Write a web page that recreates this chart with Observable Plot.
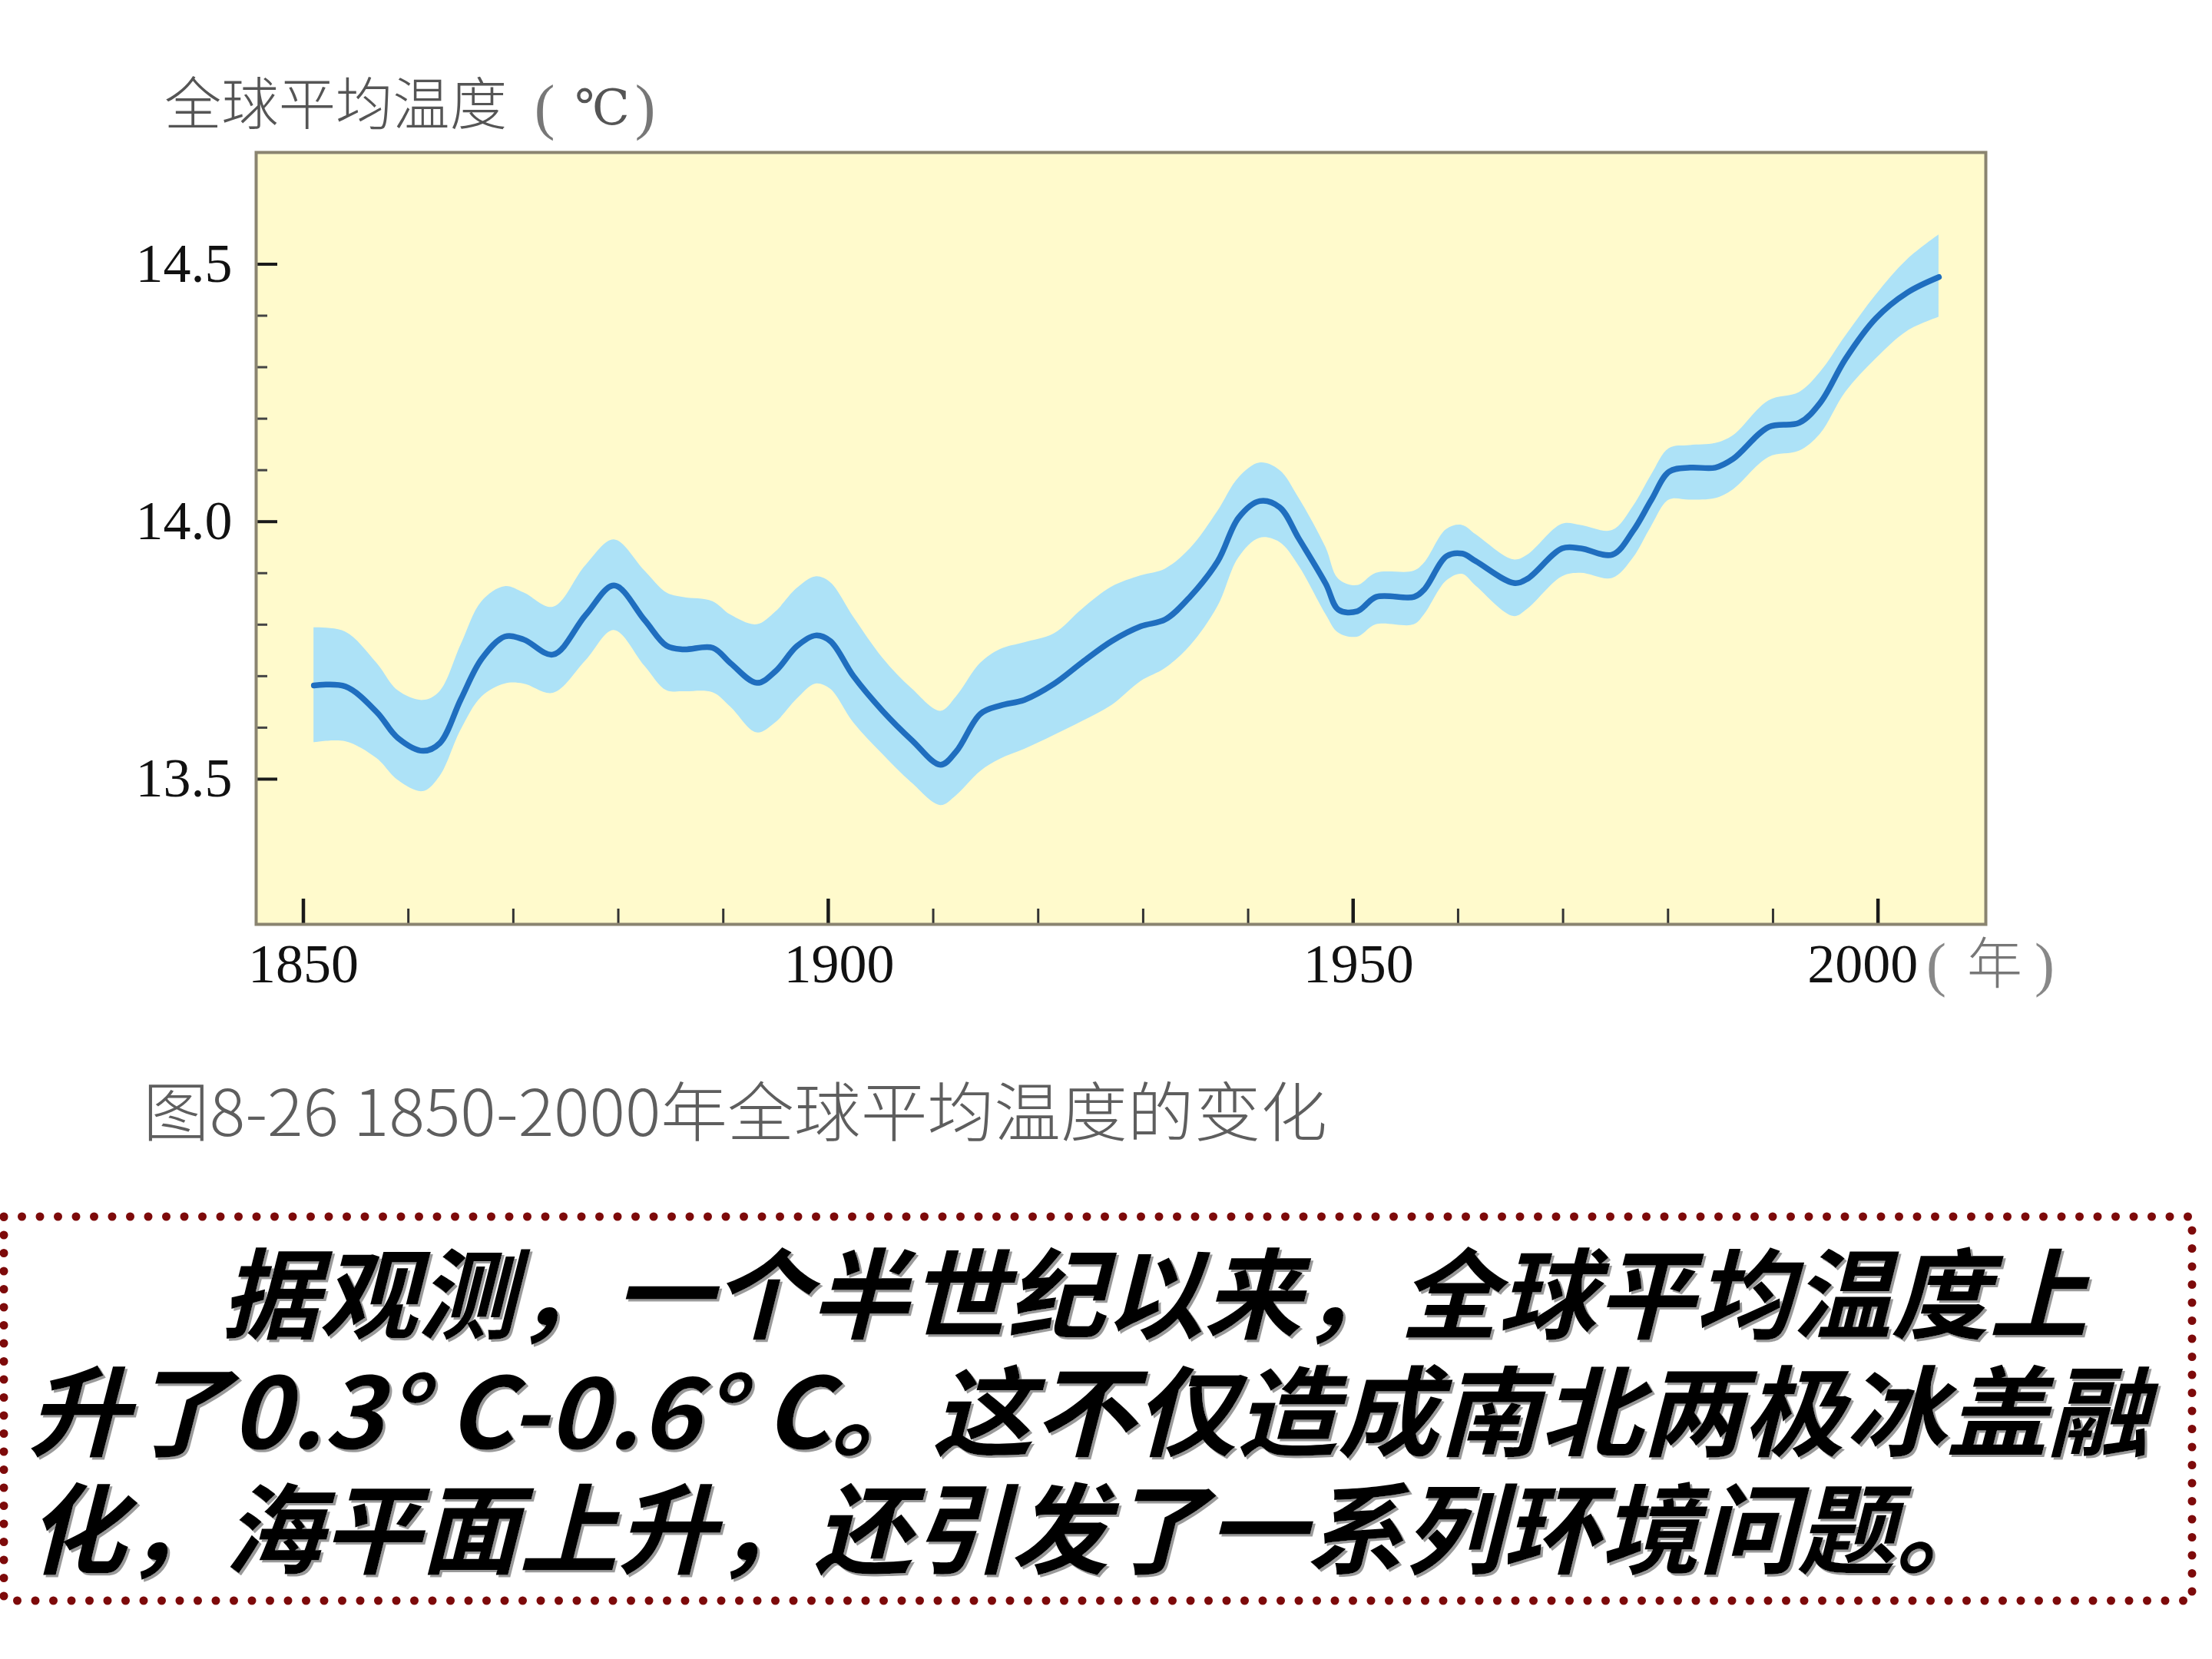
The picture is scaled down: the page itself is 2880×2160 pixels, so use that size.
<!DOCTYPE html>
<html><head><meta charset="utf-8">
<script src="https://cdn.jsdelivr.net/npm/d3@7"></script>
<script src="https://cdn.jsdelivr.net/npm/@observablehq/plot@0.6"></script>
<style>
html,body{margin:0;padding:0;background:#fff;}
#page{position:relative;width:2880px;height:2160px;overflow:hidden;background:#fff;}
#chart{position:absolute;left:0;top:0;}
#overlay{position:absolute;left:0;top:0;}
</style></head><body><div id="page"><div id="chart"></div></div>
<script>
// ---- data ----
const years = [1851, 1854, 1857, 1859, 1861.4, 1863, 1865, 1867, 1869.2, 1871, 1873.8, 1876.9, 1879.6, 1882.5, 1884.6, 1886.2, 1889, 1890.7, 1893.2, 1895, 1897, 1898.8, 1900.2, 1902.4, 1905.2, 1908, 1910.7, 1912.2, 1914.5, 1916.4, 1918.7, 1921.5, 1924.2, 1927, 1929.8, 1932.1, 1934.5, 1937.1, 1939.1, 1941.1, 1943, 1944.8, 1947.4, 1948.6, 1950.4, 1952.2, 1955.8, 1956.8, 1958.9, 1960.4, 1961.7, 1965.3, 1966.6, 1969.9, 1971.7, 1974.7, 1976.7, 1978.4, 1980.1, 1982.1, 1984.5, 1986.2, 1989.6, 1992.5, 1994.5, 1996.9, 1999.8, 2002.8, 2005.8];
const temps = [13.682, 13.680, 13.630, 13.580, 13.555, 13.570, 13.655, 13.734, 13.777, 13.771, 13.742, 13.819, 13.876, 13.809, 13.759, 13.752, 13.755, 13.725, 13.687, 13.710, 13.758, 13.779, 13.768, 13.700, 13.632, 13.575, 13.528, 13.554, 13.627, 13.643, 13.654, 13.685, 13.727, 13.768, 13.797, 13.810, 13.855, 13.923, 14.008, 14.040, 14.028, 13.968, 13.879, 13.829, 13.826, 13.854, 13.854, 13.869, 13.933, 13.938, 13.923, 13.881, 13.889, 13.948, 13.948, 13.936, 13.983, 14.042, 14.097, 14.105, 14.105, 14.122, 14.184, 14.192, 14.231, 14.316, 14.395, 14.445, 14.475];
const lows = [13.571, 13.573, 13.540, 13.498, 13.476, 13.505, 13.595, 13.660, 13.685, 13.685, 13.667, 13.730, 13.789, 13.720, 13.672, 13.670, 13.668, 13.640, 13.590, 13.610, 13.655, 13.685, 13.675, 13.610, 13.548, 13.492, 13.449, 13.468, 13.515, 13.539, 13.558, 13.585, 13.612, 13.643, 13.690, 13.715, 13.759, 13.835, 13.930, 13.968, 13.960, 13.915, 13.820, 13.784, 13.776, 13.800, 13.800, 13.820, 13.885, 13.898, 13.875, 13.816, 13.830, 13.893, 13.900, 13.890, 13.930, 13.990, 14.042, 14.042, 14.045, 14.062, 14.125, 14.137, 14.170, 14.251, 14.316, 14.370, 14.397];
const highs = [13.794, 13.786, 13.725, 13.672, 13.653, 13.670, 13.760, 13.845, 13.874, 13.862, 13.834, 13.915, 13.965, 13.905, 13.862, 13.853, 13.845, 13.819, 13.800, 13.825, 13.870, 13.893, 13.882, 13.815, 13.735, 13.675, 13.632, 13.660, 13.725, 13.752, 13.765, 13.782, 13.830, 13.873, 13.895, 13.908, 13.948, 14.020, 14.085, 14.114, 14.100, 14.047, 13.950, 13.889, 13.876, 13.900, 13.904, 13.920, 13.985, 13.993, 13.975, 13.926, 13.935, 13.995, 13.993, 13.983, 14.030, 14.090, 14.142, 14.148, 14.152, 14.167, 14.235, 14.251, 14.290, 14.360, 14.440, 14.509, 14.557];
const xMajor = [1850, 1900, 1950, 2000];
const xMinor = [1860, 1870, 1880, 1890, 1910, 1920, 1930, 1940, 1960, 1970, 1980, 1990];
const yMajor = [13.5, 14.0, 14.5];
const yMinor = [13.6, 13.7, 13.8, 13.9, 14.1, 14.2, 14.3, 14.4];
const yTitle = "全球平均温度";
const xUnit = "年";
const caption = "图8-26 1850-2000年全球平均温度的变化";
const noteLines = [
  "据观测，一个半世纪以来，全球平均温度上",
  "升了0.3° C-0.6° C。这不仅造成南北两极冰盖融",
  "化，海平面上升，还引发了一系列环境问题。"
];

const data = years.map((y, i) => ({year: y, temp: temps[i], lo: lows[i], hi: highs[i]}));

const W = 2880, H = 1300;
const mL = 333, mR = 295, mT = 198, mB = 97;
const innerW = W - mL - mR, innerH = H - mT - mB;
const serif = "'Liberation Serif', 'DejaVu Serif', serif";

const chart = Plot.plot({
  width: W, height: H,
  marginLeft: mL, marginRight: mR, marginTop: mT, marginBottom: mB,
  x: {domain: [1845.5, 2010.27], label: null},
  y: {domain: [13.218, 14.717], label: null},
  style: {background: "transparent", fontFamily: serif, fontSize: "72px", color: "#111"},
  marks: [
    Plot.frame({fill: "#fffacc", stroke: null}),
    Plot.areaY(data, {x: "year", y1: "lo", y2: "hi", fill: "#ade2f7", curve: "catmull-rom"}),
    Plot.line(data, {x: "year", y: "temp", stroke: "#1f6ebf", strokeWidth: 7.5, curve: "catmull-rom"}),
    Plot.tickX(xMinor, {x: d => d, insetTop: innerH - 20, stroke: "#333", strokeWidth: 3}),
    Plot.tickX(xMajor, {x: d => d, insetTop: innerH - 33, stroke: "#1a1a1a", strokeWidth: 4.5}),
    Plot.tickY(yMinor, {y: d => d, insetRight: innerW - 15, stroke: "#444", strokeWidth: 3}),
    Plot.tickY(yMajor, {y: d => d, insetRight: innerW - 28, stroke: "#1a1a1a", strokeWidth: 4}),
    Plot.frame({stroke: "#8a8470", strokeWidth: 4}),
    Plot.axisX({ticks: xMajor, tickSize: 0, tickPadding: 24, tickFormat: d => String(d), label: null, fontSize: 72, fontFamily: serif, fill: "#111"}),
    Plot.axisY({ticks: yMajor, tickSize: 0, tickPadding: 31, tickFormat: d => d.toFixed(1), label: null, fontSize: 72, fontFamily: serif, fill: "#111"})
  ]
});
document.getElementById("chart").appendChild(chart);

// small per-label nudges of the x tick labels, as in the printed figure
const labelShift = {"1850": 0, "1900": 14, "1950": 7, "2000": -20};
d3.select(chart).selectAll("g[aria-label='x-axis tick label'] text").each(function() {
  const s = labelShift[this.textContent.trim()];
  if (s) d3.select(this).attr("dx", s);
});

// ---- overlay texts & box ----
const cjk = "'Noto Sans CJK SC', 'Noto Sans', sans-serif";
const ov = d3.select("#page").append("svg").attr("id", "overlay")
  .attr("width", 2880).attr("height", 2160);
const defs = ov.append("defs");
const f = defs.append("filter").attr("id", "shadow").attr("x", "-5%").attr("y", "-20%").attr("width", "110%").attr("height", "140%");
f.append("feDropShadow").attr("dx", 3).attr("dy", 3).attr("stdDeviation", 0.6)
  .attr("flood-color", "#9a9a9a").attr("flood-opacity", 1);

function t(str, x, y, o) {
  const e = ov.append("text").attr("x", x).attr("y", y).text(str)
    .attr("font-family", o.family || cjk)
    .attr("font-size", o.size)
    .attr("fill", o.fill || "#000")
    .attr("text-anchor", o.anchor || "start");
  if (o.weight) e.attr("font-weight", o.weight);
  if (o.style) e.attr("font-style", o.style);
  if (o.len) e.attr("textLength", o.len).attr("lengthAdjust", "spacingAndGlyphs");
  if (o.filter) e.attr("filter", o.filter);
  return e;
}

// y title
t(yTitle, 214, 162, {size: 74, fill: "#555", weight: 300, len: 446});
t("(", 709, 166, {size: 80, fill: "#777", family: serif, anchor: "middle", weight: 300});
t("℃", 784, 162, {size: 64, fill: "#555", family: serif, anchor: "middle"});
t(")", 840, 166, {size: 80, fill: "#777", family: serif, anchor: "middle", weight: 300});

// x unit
t("(", 2521, 1282, {size: 78, fill: "#888", family: serif, anchor: "middle"});
t(xUnit, 2597, 1280, {size: 72, fill: "#777", anchor: "middle", weight: 300});
t(")", 2662, 1282, {size: 78, fill: "#888", family: serif, anchor: "middle"});

// caption
t(caption, 186, 1479, {size: 84, fill: "#5e5e5e", weight: 300, len: 1542});

// dotted box
ov.append("rect").attr("x", 5).attr("y", 1584).attr("width", 2849).attr("height", 500)
  .attr("fill", "none").attr("stroke", "#7d0a0a").attr("stroke-width", 11)
  .attr("stroke-linecap", "round").attr("stroke-dasharray", "0 23.5");

// note text
const noteSpec = [[288, 1733, 2430], [36, 1886, 2762], [36, 2039, 2560]];
noteLines.forEach((s, i) => {
  const [x, y, len] = noteSpec[i];
  t(s, x, y, {size: 128, fill: "#000", weight: 700, style: "italic", len: len, filter: "url(#shadow)"});
});
</script>
</body></html>
